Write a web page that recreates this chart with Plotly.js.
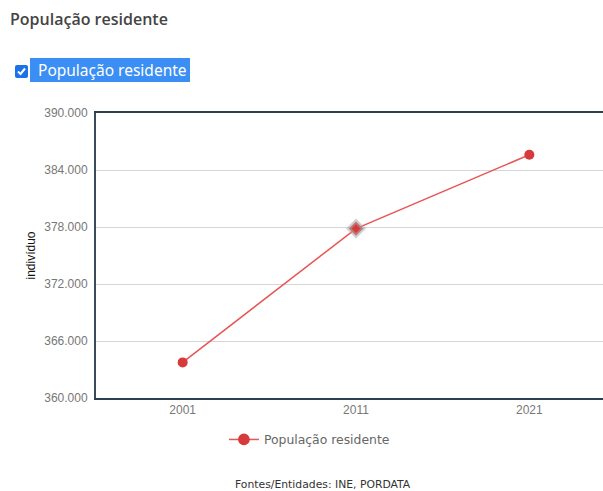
<!DOCTYPE html>
<html>
<head>
<meta charset="utf-8">
<script src="https://cdn.plot.ly/plotly-3.0.1.min.js"></script>
<style>
  html, body { margin: 0; padding: 0; width: 603px; height: 491px; overflow: hidden; background: #fff; }
  #title { position: absolute; left: 10px; top: 8px; font-family: "Open Sans", sans-serif; font-weight: 600; font-size: 16px; color: #444; white-space: nowrap; }
  #cb { position: absolute; left: 15px; top: 65px; width: 13px; height: 13px; background: #1a73e8; border-radius: 2px; }
  #cb svg { position: absolute; left: 1px; top: 1px; }
  #lbl { position: absolute; left: 30px; top: 58px; height: 24px; width: 160px; background: #3b8ef3; color: #fff; font-family: "Noto Sans", sans-serif; font-size: 15.5px; line-height: 24px; padding-left: 8px; box-sizing: border-box; white-space: nowrap; }
  #chart { position: absolute; left: 0; top: 0; width: 640px; height: 491px; }
</style>
</head>
<body>
<div id="chart"></div>
<div id="title">População residente</div>
<div id="cb"><svg width="11" height="11" viewBox="0 0 11 11"><path d="M2 5.5 L4.5 8 L9 2.5" stroke="#fff" stroke-width="2" fill="none"/></svg></div>
<div id="lbl">População residente</div>
<script>
const years = ['2001', '2011', '2021'];
const population = [363749, 377835, 385606];
const seriesName = 'População residente';
const yTitle = 'indivíduo';
const sourceText = 'Fontes/Entidades: INE, PORDATA';

const trace = {
  x: years,
  y: population,
  name: seriesName,
  type: 'scatter',
  mode: 'lines+markers',
  line: { color: '#e85555', width: 1.5 },
  marker: {
    color: '#d63a3a',
    opacity: 1,
    size: [10, 11, 10],
    symbol: ['circle', 'diamond', 'circle'],
    line: { color: ['#d63a3a', 'rgba(170,170,170,0.55)', '#d63a3a'], width: [0, 4, 0] }
  },
  hoverinfo: 'none'
};

const layout = {
  width: 640,
  height: 491,
  margin: { l: 96, r: 24, t: 113, b: 93 },
  separators: ',.',
  paper_bgcolor: '#fff',
  plot_bgcolor: '#fff',
  showlegend: true,
  xaxis: {
    type: 'category',
    range: [-0.5, 2.5],
    showline: true,
    linecolor: '#2c3e50',
    linewidth: 2,
    mirror: true,
    showgrid: false,
    zeroline: false,
    ticks: '',
    tickfont: { family: 'Liberation Sans, Arial, sans-serif', size: 12, color: '#777' },
    fixedrange: true
  },
  yaxis: {
    range: [360000, 390000],
    dtick: 6000,
    tick0: 360000,
    tickformat: ',d',
    showline: true,
    linecolor: '#3a4a5a',
    linewidth: 2,
    mirror: true,
    gridcolor: '#d6d6d6',
    gridwidth: 1,
    zeroline: false,
    ticks: '',
    ticklabelstandoff: 4,
    tickfont: { family: 'Liberation Sans, Arial, sans-serif', size: 12, color: '#777' },
    title: { text: yTitle, font: { family: 'Liberation Sans, Arial, sans-serif', size: 12, color: '#111' }, standoff: 6 },
    automargin: false,
    fixedrange: true
  },
  legend: {
    orientation: 'h',
    x: 0.246,
    xanchor: 'left',
    y: -0.147,
    yanchor: 'middle',
    font: { family: 'DejaVu Sans, sans-serif', size: 12.4, color: '#666' },
    itemwidth: 30
  },
  annotations: [{
    text: sourceText,
    xref: 'paper', yref: 'paper',
    x: 0.4365, y: -0.305,
    xanchor: 'center', yanchor: 'middle',
    showarrow: false,
    font: { family: 'DejaVu Sans, sans-serif', size: 10.8, color: '#333' }
  }]
};

Plotly.newPlot('chart', [trace], layout, { displayModeBar: false, staticPlot: true });
</script>
</body>
</html>
